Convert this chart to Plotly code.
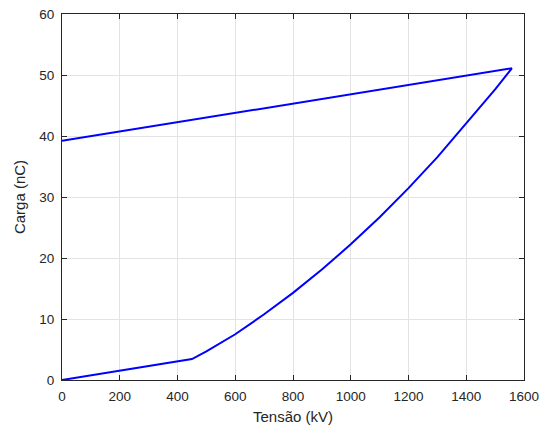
import plotly.graph_objects as go

# Charge (nC) vs voltage (kV): linear start, rising curve, straight return line
tensao_kv = [0, 450, 500, 600, 700, 800, 900, 1000, 1100, 1200, 1300, 1400, 1500, 1558, 0]
carga_nc = [0, 3.44, 4.69, 7.5, 10.77, 14.28, 18.1, 22.24, 26.69, 31.46, 36.54, 42.0, 47.64, 51.1, 39.2]

x_ticks = [0, 200, 400, 600, 800, 1000, 1200, 1400, 1600]
y_ticks = [0, 10, 20, 30, 40, 50, 60]

fig = go.Figure()
fig.add_trace(go.Scatter(x=tensao_kv, y=carga_nc, mode="lines",
                         line=dict(color="#0000ff", width=2), showlegend=False))

font_fam = "Liberation Sans, Arial, sans-serif"
axis_common = dict(showline=True, linecolor="#262626", linewidth=1, mirror="ticks",
                   ticks="inside", ticklen=5, tickcolor="#262626", automargin=False,
                   ticklabeloverflow="allow",
                   showgrid=True, gridcolor="#e3e3e3", gridwidth=1, zeroline=False,
                   tickfont=dict(family=font_fam, size=13.5, color="#262626"))

# page body adds an 8px offset, so the figure is sized to fit the 547x428 window
fig.update_layout(
    width=539, height=420,
    margin=dict(l=54, r=23, t=6, b=48),
    paper_bgcolor="white", plot_bgcolor="white",
    xaxis=dict(range=[0, 1600], tickvals=x_ticks, ticklabelstandoff=4,
               title=dict(text="Tensão (kV)", font=dict(family=font_fam, size=15, color="#262626"), standoff=8),
               **axis_common),
    yaxis=dict(range=[0, 60], tickvals=y_ticks, ticklabelstandoff=4,
               title=dict(text="Carga (nC)", font=dict(family=font_fam, size=15, color="#262626"), standoff=10),
               **axis_common),
)

fig.write_html("out.html")
